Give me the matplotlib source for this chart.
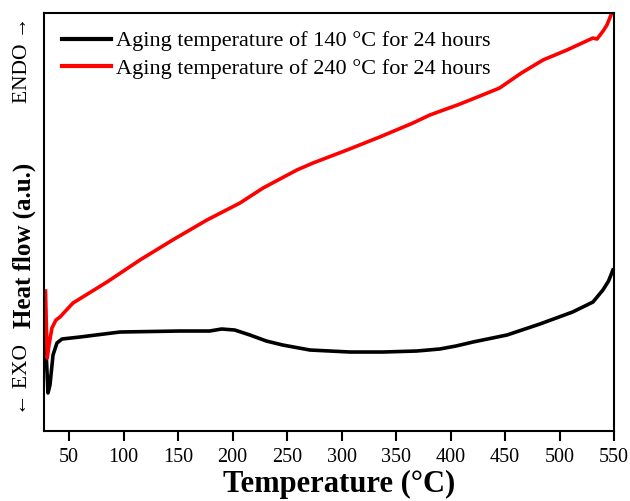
import numpy as np
import matplotlib
matplotlib.use("Agg")
import matplotlib.pyplot as plt

# DSC traces (heat flow in arbitrary units)
temp_140 = [27.9, 29.3, 30.7, 32.5, 35.3, 38.9, 43.5, 60, 96.7, 151.8, 179, 190, 202,
            216, 231, 246, 271, 307.7, 338, 369, 390, 405, 420.6, 451.8, 482, 512, 530.7,
            539.8, 545, 549]
flow_140 = [96, 71, 38, 46, 76, 88, 92, 94, 99, 100, 100, 102, 101,
            96, 90, 86, 81, 79, 79, 80, 82, 85, 89, 96, 107, 119, 129,
            141, 150, 161]

temp_240 = [28.4, 29.3, 30.0, 31.6, 34.3, 38, 41.7, 53.6, 84.8, 115, 145, 176.5, 206.8,
            228, 259, 273.8, 305, 335, 365.5, 381, 408.7, 427, 445, 465, 484.8, 506.8,
            530.7, 534.4, 540, 543.5, 548]
flow_240 = [140, 101, 73, 86, 103, 111, 114, 128, 149, 171, 191, 211, 228,
            243, 261, 268, 281, 294, 308, 316, 327, 335, 343, 358, 371, 381,
            393, 392, 400, 406, 418]

labels = ["Aging temperature of 140 \u00b0C for 24 hours",
          "Aging temperature of 240 \u00b0C for 24 hours"]
xticks = list(range(50, 551, 50))

plt.rcParams['font.family'] = ['Liberation Serif', 'DejaVu Serif']

fig = plt.figure(figsize=(6.3, 5.01), dpi=100)
ax = fig.add_axes([0.0698, 0.1397, 0.9048, 0.8343])

ax.plot(temp_140, flow_140, color='black', lw=2.6, label=labels[0])
ax.plot(temp_240, flow_240, color='#ff0000', lw=2.6, label=labels[1])

ax.set_xlim(27, 550)
ax.set_ylim(0, 418)
ax.set_xticks(xticks)
ax.set_yticks([])
ax.tick_params(axis='x', direction='out', length=7, width=1.5, pad=5, labelsize=14.5)
for s in ax.spines.values():
    s.set_linewidth(1.5)

ax.set_xlabel("Temperature (\u00b0C)", fontsize=22, fontweight='bold')
ax.xaxis.set_label_coords(0.517, -0.093)

# y label made of three pieces
fig.text(0.038, 0.51, "Heat flow (a.u.)", rotation=90, fontsize=18, fontweight='bold',
         ha='center', va='center')
fig.text(0.036, 0.243, "\u2190 EXO", rotation=90, fontsize=15.5,
         ha='center', va='center', family=['Liberation Serif', 'DejaVu Sans'])
fig.text(0.036, 0.88, "ENDO \u2192", rotation=90, fontsize=15.5,
         ha='center', va='center', family=['Liberation Serif', 'DejaVu Sans'])

leg = ax.legend(loc='upper left', frameon=False, fontsize=16, handlelength=2.2,
                handletextpad=0.25, borderaxespad=0.4, labelspacing=0.33)
for line in leg.get_lines():
    line.set_linewidth(3)

fig.savefig("out.png", dpi=100)
